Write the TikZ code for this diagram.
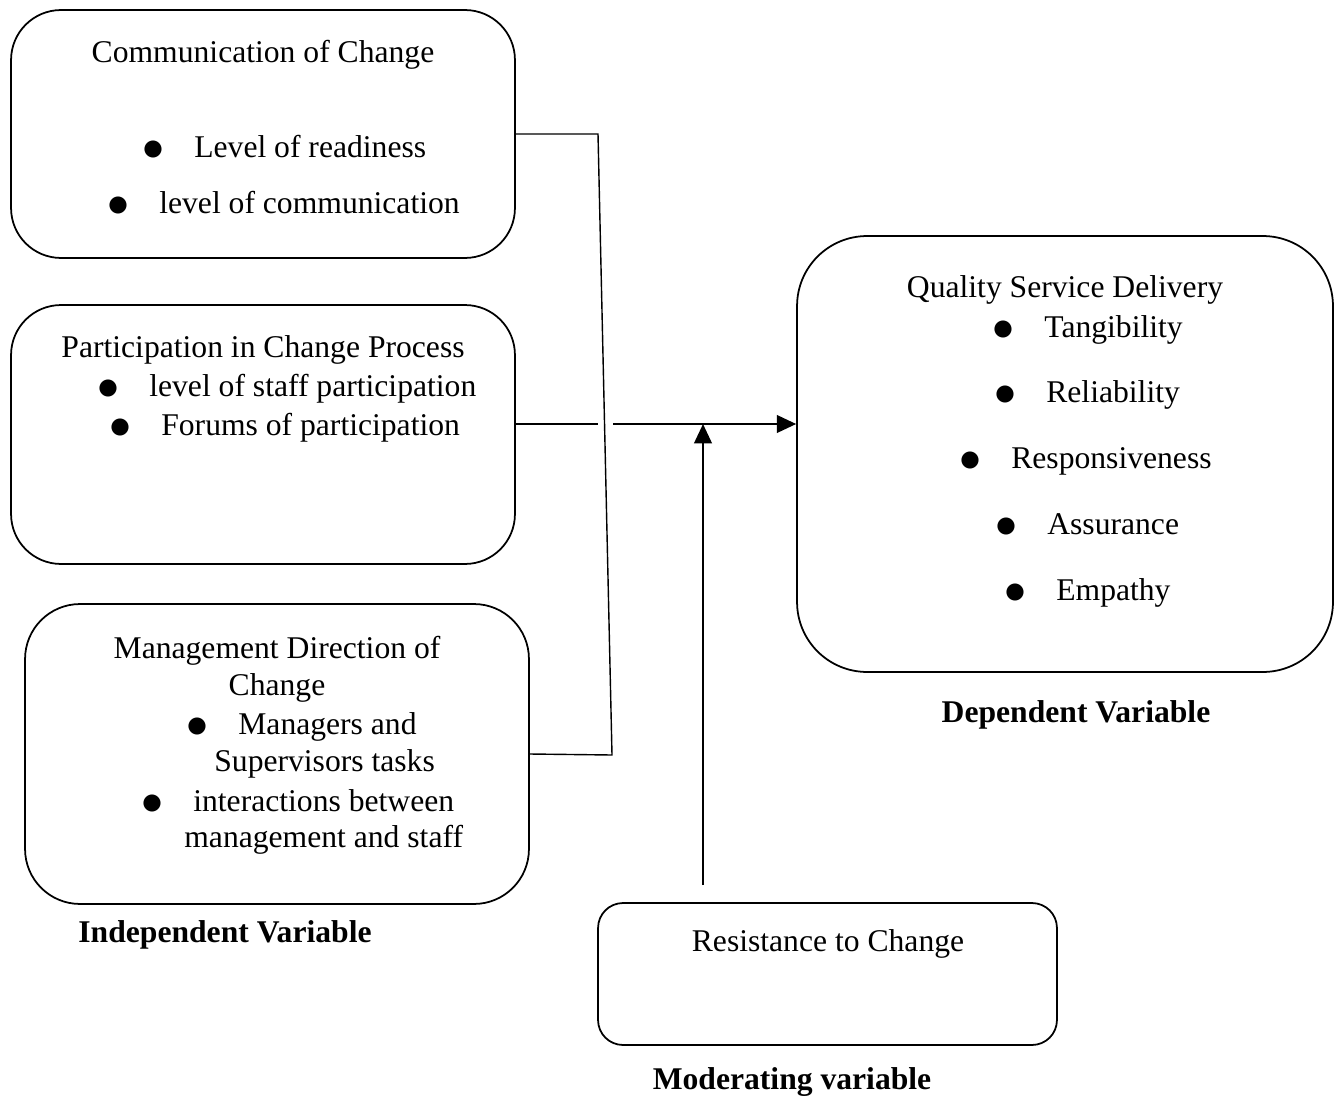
\documentclass[tikz,border=0pt]{standalone}
\usepackage{fontspec}
\usepackage{graphicx}
\setmainfont{Liberation Serif}
\usetikzlibrary{positioning,arrows.meta}

\tikzset{
    varbox/.style={draw=black, line width=1pt, rounded corners=1cm, minimum width=10.08cm},
    title/.style={font=\fontsize{18}{22}\selectfont, inner sep=0pt, anchor=mid, yshift=-0.13cm},
    item/.style={font=\fontsize{18}{22}\selectfont, inner sep=0pt, anchor=mid west, yshift=-0.13cm},
    caption/.style={font=\fontsize{18}{22}\selectfont\bfseries, inner sep=0pt, anchor=mid, yshift=-0.13cm},
    link/.style={draw=black, line width=0.8pt},
    effect/.style={draw=black, line width=1.3pt, -{Triangle[length=11pt,width=10pt]}}
}
\newcommand{\bitem}[1]{\makebox[0.94cm][l]{\hspace{-0.1cm}\smash{\raisebox{-0.1em}{\scalebox{1.45}{$\bullet$}}}}#1}

\begin{document}
\begin{tikzpicture}[x=0.02cm, y=-0.02cm]
    \useasboundingbox (0,0) rectangle (1341,1098);

    % Independent variables
    \node[varbox, minimum height=4.96cm] (comm) at (263,134) {};
    \node[title] (commT) at (263,52) {Communication of Change};
    \node[item] (comm1) at (147,147) {\bitem{Level of readiness}};
    \node[item] (comm2) at (112,203) {\bitem{level of communication}};

    \node[varbox, minimum height=5.18cm] (part) at (263,434.5) {};
    \node[title] (partT) at (263,347) {Participation in Change Process};
    \node[item] (part1) at (102,386) {\bitem{level of staff participation}};
    \node[item] (part2) at (114,425) {\bitem{Forums of participation}};

    \node[varbox, minimum height=6cm, rounded corners=1.1cm] (mgmt) at (277,754) {};
    \node[title] (mgmtT) at (277,648) {Management Direction of};
    \node[title] (mgmtT2) at (277,685) {Change};
    \node[item] (mgmt1) at (191,724) {\bitem{Managers and}};
    \node[item] (mgmt1b) at (214,761) {Supervisors tasks};
    \node[item] (mgmt2) at (146,801) {\bitem{interactions between}};
    \node[item] (mgmt2b) at (184,837) {management and staff};
    \node[caption] (indep) at (225,932) {Independent Variable};

    % Dependent variable
    \node[varbox, minimum width=10.72cm, minimum height=8.72cm, rounded corners=1.4cm] (qsd) at (1065,454) {};
    \node[title] (qsdT) at (1065,287) {Quality Service Delivery};
    \node[item] (qsd1) at (997,327) {\bitem{Tangibility}};
    \node[item] (qsd2) at (999,392) {\bitem{Reliability}};
    \node[item] (qsd3) at (964,458) {\bitem{Responsiveness}};
    \node[item] (qsd4) at (1000,524) {\bitem{Assurance}};
    \node[item] (qsd5) at (1009,590) {\bitem{Empathy}};
    \node[caption] (dep) at (1076,712) {Dependent Variable};

    % Moderating variable
    \node[varbox, minimum width=9.18cm, minimum height=2.84cm, rounded corners=0.5cm] (resist) at (827.5,974) {};
    \node[title] (resistT) at (828,941) {Resistance to Change};
    \node[caption] (mod) at (792,1079) {Moderating variable};

    % Connectors
    \coordinate (jt) at (598,134);
    \coordinate (jb) at (612,755);
    \draw[link] (comm.east) -- (jt) -- (jb) -- (mgmt.east);
    \coordinate (pj) at (598,424);
    \coordinate (aj) at (613,424);
    \draw[link, line width=0.6pt] (part.east |- pj) -- (pj);
    \draw[effect] (aj) -- (qsd.west |- aj);
    \coordinate (rj) at (703,885);
    \draw[effect] (rj) -- (rj |- aj);
\end{tikzpicture}
\end{document}
